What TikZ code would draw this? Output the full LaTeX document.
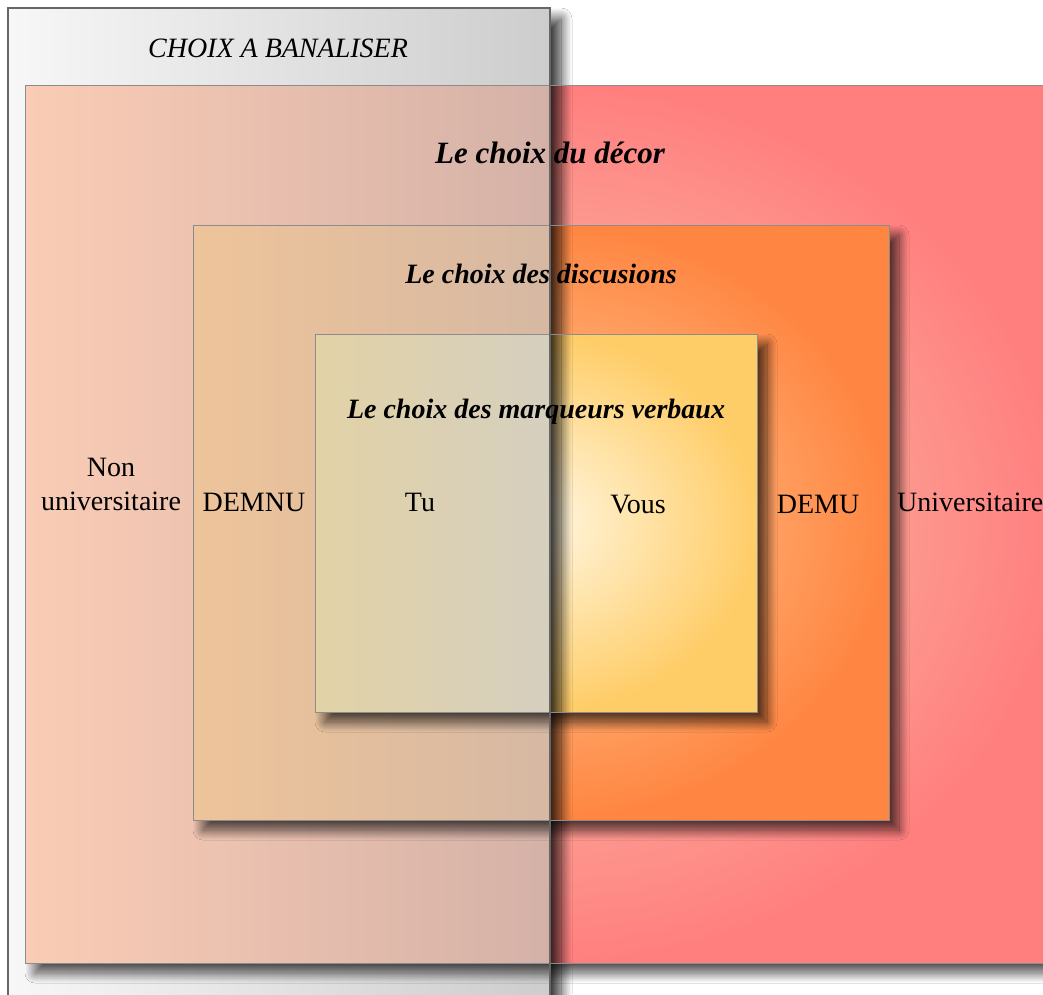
\documentclass[tikz,border=0pt]{standalone}
\usepackage{fontspec}
\setmainfont{Liberation Serif}
\usetikzlibrary{shadows.blur}
\definecolor{grayL}{HTML}{F7F7F7}
\definecolor{grayR}{HTML}{CDCDCD}
\definecolor{redL}{HTML}{FACCB5}
\definecolor{redM}{HTML}{E9C3B7}
\definecolor{redR}{HTML}{D4B1A7}
\definecolor{orgL}{HTML}{EEC49A}
\definecolor{orgM}{HTML}{E2BD9E}
\definecolor{orgR}{HTML}{D6B8A3}
\definecolor{yelL}{HTML}{E2D2A6}
\definecolor{yelM}{HTML}{DBD0B0}
\definecolor{yelR}{HTML}{D5CFBF}
\definecolor{redIn}{HTML}{F8CFB2}
\definecolor{redOut}{HTML}{FF7F7F}
\definecolor{orgIn}{HTML}{FFCF9C}
\definecolor{orgOut}{HTML}{FF8642}
\definecolor{yelIn}{HTML}{FFF7E2}
\definecolor{yelOut}{HTML}{FFCD68}
\newcommand\lblfont{\fontsize{28}{34}\selectfont}
\tikzset{
  shad/.style={blur shadow={shadow xshift=10pt, shadow yshift=-10pt, shadow blur radius=10pt, shadow opacity=70, shadow blur steps=20}},
  gshad/.style={blur shadow={shadow xshift=11pt, shadow yshift=-11pt, shadow blur radius=11pt, shadow opacity=80, shadow blur steps=20}},
  bd/.style={draw=black!45, line width=1pt},
  gbd/.style={draw=black!60, line width=1.5pt},
  lbl/.style={font=\lblfont, inner sep=0pt, anchor=base, text=black},
  ttl/.style={lbl, font=\lblfont\bfseries\itshape},
}
\begin{document}
\begin{tikzpicture}[x=1pt,y=-1pt]
\useasboundingbox (0,0) rectangle (1043,994);
\clip (0,0) rectangle (1043,994);
\fill[white] (0,0) rectangle (1043,994);
% ---------- left half: seen through the grey box
\begin{scope}
  \clip (0,0) rectangle (550,994);
  \path[left color=grayL, right color=grayR] (8,8) rectangle (550,1010);
  \path[shad, left color=redL, middle color=redM, right color=redR] (25,85) rectangle (551,963);
  \path[shad, left color=orgL, middle color=orgM, right color=orgR] (193,225) rectangle (551,820);
  \path[shad, left color=yelL, middle color=yelM, right color=yelR] (315,334) rectangle (551,712);
\end{scope}
% ---------- right half
\begin{scope}
  \clip (550,0) rectangle (1043,994);
  \path[shad, inner color=redIn, outer color=redOut] (25,85) rectangle (1060,963);
  \path[shad, inner color=orgIn, outer color=orgOut] (193,225) rectangle (889,820);
  \path[shad, inner color=yelIn, outer color=yelOut] (315,334) rectangle (757,712);
  \path[gshad, fill=white] (8,8) rectangle (550,1010);
\end{scope}
% ---------- borders
\draw[bd] (25,85) rectangle (1060,963);
\draw[bd] (193,225) rectangle (889,820);
\draw[bd] (315,334) rectangle (757,712);
\draw[gbd] (8,8) rectangle (550,1010);
% ---------- labels
\node[lbl, font=\lblfont\itshape] (banal) at (278,57) {CHOIX A BANALISER};
\node[ttl, font=\fontsize{31}{36}\selectfont\bfseries\itshape] (decor) at (550,163) {Le choix du décor};
\node[ttl] (disc) at (541,283) {Le choix des discusions};
\node[ttl] (marq) at (536,418) {Le choix des marqueurs verbaux};
\node[lbl, align=center] (nonuniv) at (111,510) {Non\\universitaire};
\node[lbl] (demnu) at (254,511) {DEMNU};
\node[lbl] (tu) at (420,511) {Tu};
\node[lbl] (vous) at (638,513) {Vous};
\node[lbl] (demu) at (818,513) {DEMU};
\node[lbl, anchor=base west] (univ) at (897,511) {Universitaire};
\end{tikzpicture}
\end{document}
